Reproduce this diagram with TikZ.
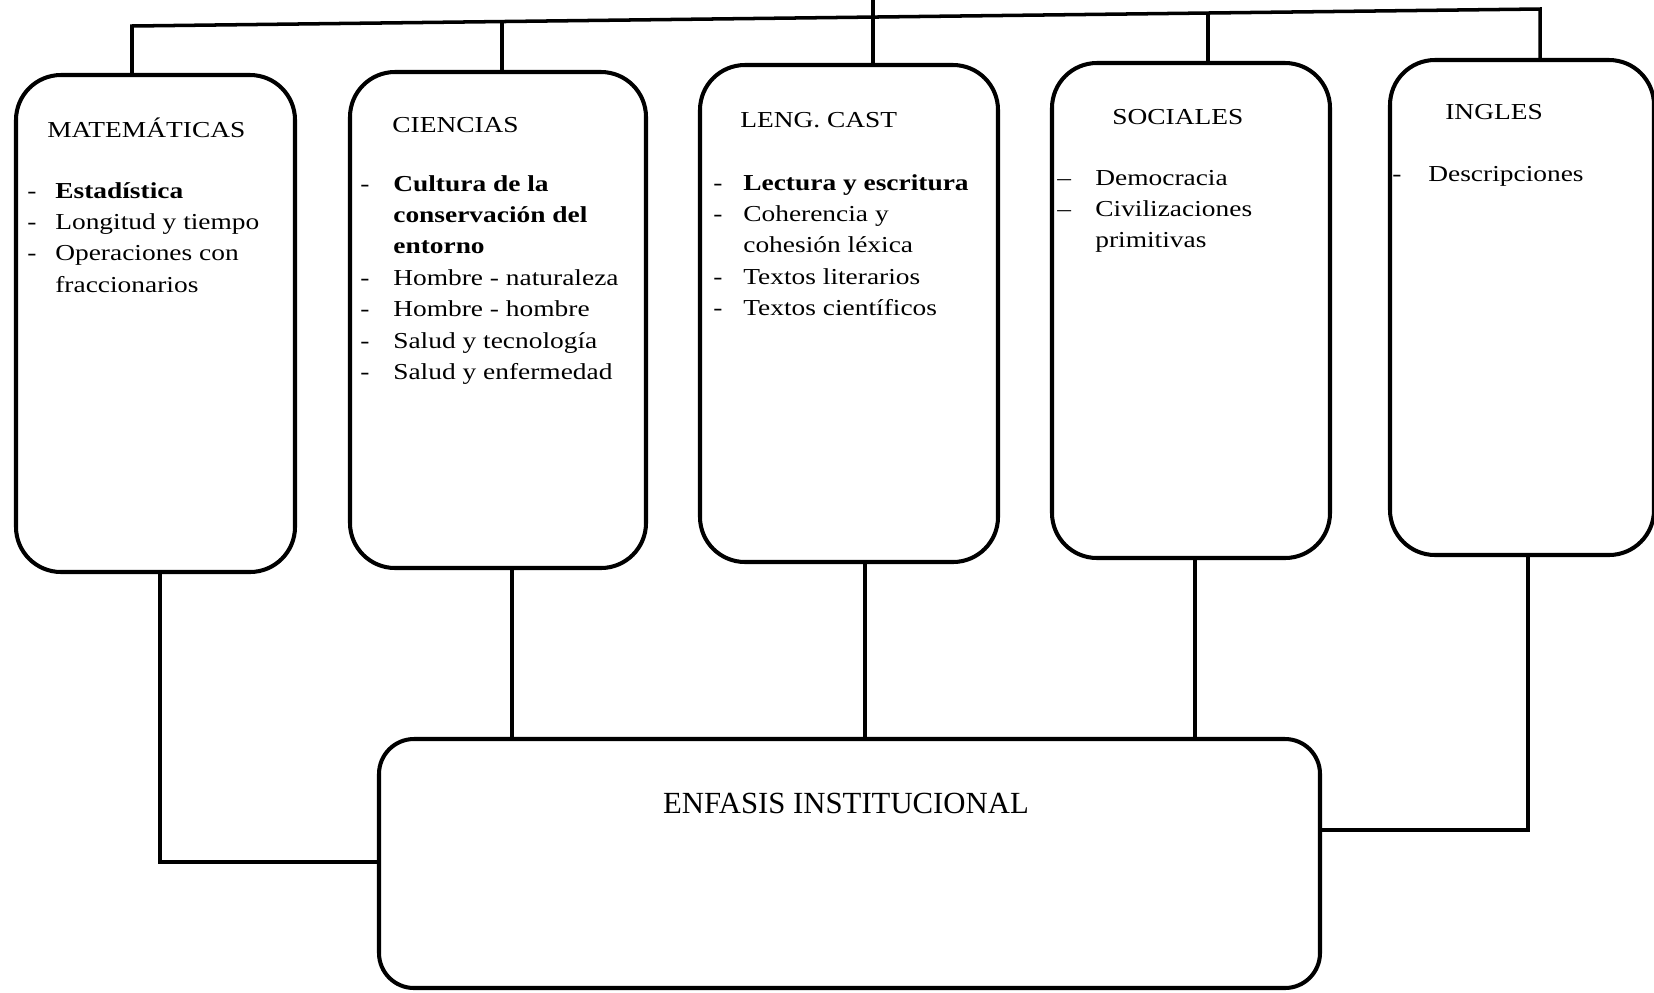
\documentclass[tikz,border=0pt]{standalone}
\usepackage{fontspec}
\setmainfont{Liberation Serif}
\newfontfamily\scanfont[FakeStretch=1.2]{Liberation Serif}
\usetikzlibrary{calc,fit}
\newcommand{\lista}[2]{\begin{tabular}[t]{@{}p{#1}@{}l@{}}#2\end{tabular}}

\begin{document}
\begin{tikzpicture}[x=0.02cm, y=-0.02cm,
    caja/.style={draw, line width=2.3pt, rounded corners=0.9cm, inner sep=0pt},
    enlace/.style={line width=2pt},
    titulo/.style={anchor=base west, inner sep=0pt, font=\scanfont\fontsize{13}{17.9}\selectfont},
    temas/.style={anchor=base west, inner sep=0pt, font=\scanfont\fontsize{13}{17.9}\selectfont}]
    \useasboundingbox[fill=white] (0,0) rectangle (1654,992);

    % areas
    \node[caja, fit={(16,75) (295,572)}] (mat) {};
    \node[caja, fit={(350,72) (646,568)}] (cie) {};
    \node[caja, fit={(700,65) (998,562)}] (len) {};
    \node[caja, fit={(1052,63) (1330,558)}] (soc) {};
    \node[caja, fit={(1390,60) (1654,555)}] (ing) {};
    \node[caja, rounded corners=0.7cm, fit={(379,739) (1320,988)}] (enf) {};

    \node[titulo] (matT) at (47,137) {MATEMÁTICAS};
    \node[temas] (matL) at (27,198) {\lista{0.56cm}{
        - & \textbf{Estadística}\\
        - & Longitud y tiempo\\
        - & Operaciones con\\
          & fraccionarios}};

    \node[titulo] (cieT) at (392,132) {CIENCIAS};
    \node[temas] (cieL) at (360,191) {\lista{0.66cm}{
        - & \textbf{Cultura de la}\\
          & \textbf{conservación del}\\
          & \textbf{entorno}\\
        - & Hombre - naturaleza\\
        - & Hombre - hombre\\
        - & Salud y tecnología\\
        - & Salud y enfermedad}};

    \node[titulo] (lenT) at (740,127) {LENG. CAST};
    \node[temas] (lenL) at (713,190) {\lista{0.6cm}{
        - & \textbf{Lectura y escritura}\\
        - & Coherencia y\\
          & cohesión léxica\\
        - & Textos literarios\\
        - & Textos científicos}};

    \node[titulo] (socT) at (1112,124) {SOCIALES};
    \node[temas] (socL) at (1057,185) {\lista{0.76cm}{
        – & Democracia\\
        – & Civilizaciones\\
          & primitivas}};

    \node[titulo] (ingT) at (1445,119) {INGLES};
    \node[temas] (ingL) at (1392,181) {\lista{0.72cm}{
        - & Descripciones}};

    \node[anchor=base, inner sep=0pt, font=\fontsize{17.5}{21}\selectfont] (enfT) at (846,813) {ENFASIS INSTITUCIONAL};

    % conexiones de arriba
    \coordinate (arriba) at (873,0);
    \coordinate (b1) at (132,26);
    \coordinate (b5) at (1540,9);
    \coordinate (b2) at ($(b1)!0.2628!(b5)$);
    \coordinate (b4) at ($(b1)!0.7642!(b5)$);
    \draw[enlace] (b1 |- mat.north) -- (b1) -- (b5) -- (b5 |- ing.north);
    \draw[enlace] (b2) -- (b2 |- cie.north);
    \draw[enlace] (b4) -- (b4 |- soc.north);
    \draw[enlace] (arriba) -- (arriba |- len.north);

    % conexiones de abajo
    \coordinate (m1) at (160,862);
    \coordinate (c1) at (512,0);
    \coordinate (l1) at (865,0);
    \coordinate (s1) at (1195,0);
    \coordinate (i1) at (1528,830);
    \draw[enlace] (m1 |- mat.south) -- (m1) -- (m1 -| enf.west);
    \draw[enlace] (c1 |- cie.south) -- (c1 |- enf.north);
    \draw[enlace] (l1 |- len.south) -- (l1 |- enf.north);
    \draw[enlace] (s1 |- soc.south) -- (s1 |- enf.north);
    \draw[enlace] (i1 |- ing.south) -- (i1) -- (i1 -| enf.east);
\end{tikzpicture}
\end{document}
